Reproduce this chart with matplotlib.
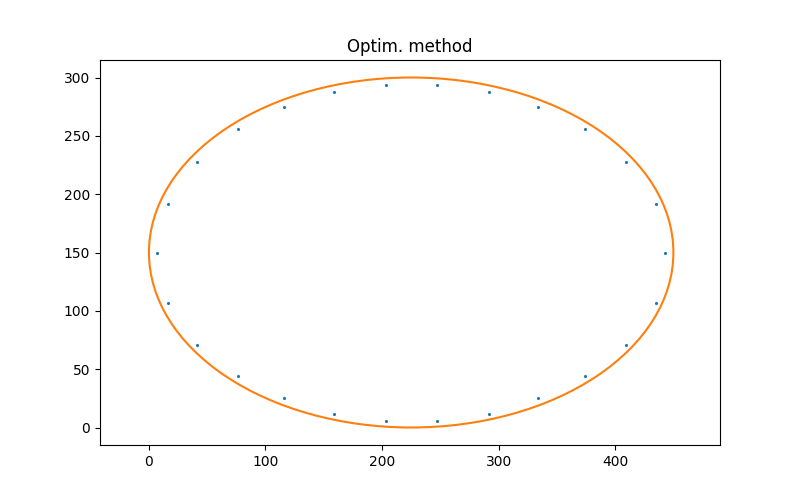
import matplotlib
matplotlib.use("Agg")
import matplotlib.pyplot as plt
from matplotlib.patches import Ellipse

px = [443, 435, 409, 374, 334, 292, 247, 203, 159, 116, 76, 41, 16,
      7, 16, 41, 76, 116, 159, 203, 247, 292, 334, 374, 409, 435]
py = [150, 192, 228, 256, 275, 288, 294, 294, 288, 275, 256, 228, 192,
      150, 107, 71, 44, 25, 12, 6, 6, 12, 25, 44, 71, 107]

# fitted ellipse
cx, cy = 225, 150
width, height = 450, 300

fig, ax = plt.subplots(figsize=(8, 5), dpi=100)
ax.plot(px, py, '.', markersize=2.5, color='C0')
ax.add_patch(Ellipse((cx, cy), width, height, fill=False, edgecolor='C1', lw=1.5))
ax.set_xlim(-42, 490)
ax.set_ylim(-15, 315)
ax.set_title("Optim. method")
fig.savefig("out.png")
